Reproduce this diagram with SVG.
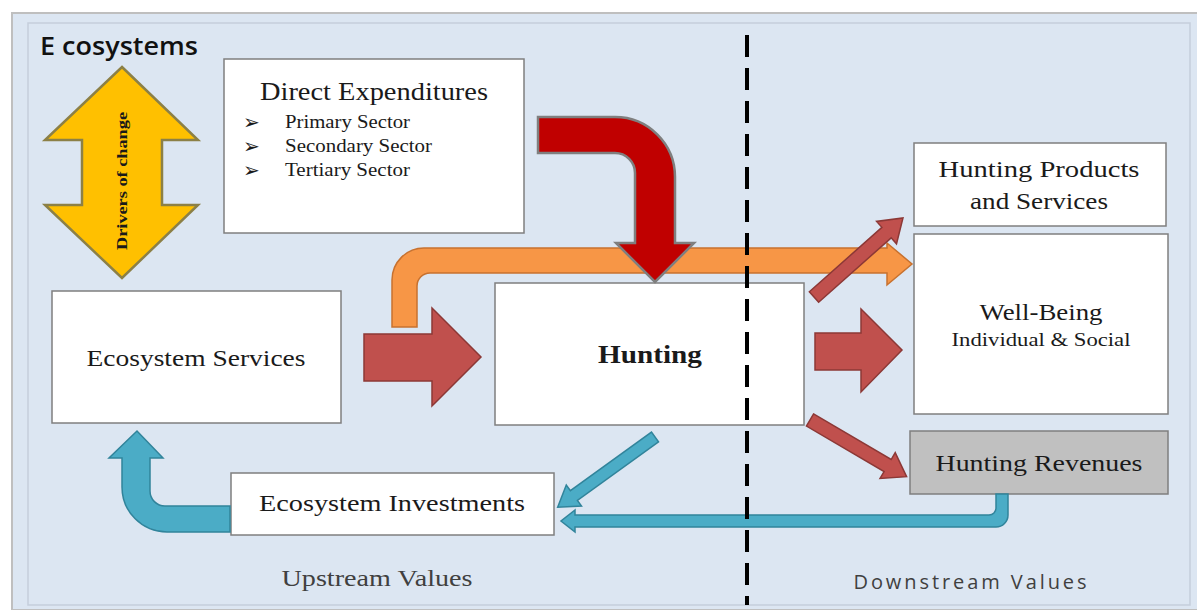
<svg xmlns="http://www.w3.org/2000/svg" width="1197" height="610" viewBox="0 0 1197 610">
<style>
.box{fill:#ffffff;stroke:#7f7f7f;stroke-width:1.5}
.gbox{fill:#c0c0c0;stroke:#7f7f7f;stroke-width:1.5}
.serif{font-family:"Liberation Serif","Times New Roman",serif;fill:#1a1a1a}
.red{fill:#c0504d;stroke:#8c3836;stroke-width:1.5}
.blue{fill:#4bacc6;stroke:#31849b;stroke-width:1.5}
</style>
<rect x="0" y="0" width="1197" height="610" fill="#ffffff"/>
<rect x="12" y="13" width="1190" height="597" fill="#dce6f2" stroke="#bfbfbf" stroke-width="2"/>
<rect x="28" y="23" width="1162" height="582" fill="#dce6f2" stroke="#c5cedb" stroke-width="1.5"/>
<text x="40" y="55" font-family="Open Sans, Liberation Sans, sans-serif" font-size="25" font-weight="600" fill="#111" textLength="158" lengthAdjust="spacingAndGlyphs">E cosystems</text>

<g id="drivers">
<path d="M122 67 L198 140 H162 V205 H198 L122 278 L45 205 H82 V140 H45 Z" fill="#ffc000" stroke="#8c8046" stroke-width="2.5"/>
<text class="serif" transform="translate(127 181) rotate(-90)" text-anchor="middle" font-size="15" font-weight="bold" textLength="138" lengthAdjust="spacingAndGlyphs">Drivers of change</text>
</g>

<g id="direct-expenditures">
<rect class="box" x="224" y="59" width="300" height="174"/>
<text class="serif" x="374" y="100" text-anchor="middle" font-size="25" textLength="228" lengthAdjust="spacingAndGlyphs">Direct Expenditures</text>
<g font-size="18">
<text class="serif" x="243" y="129" font-size="20">➢</text>
<text class="serif" x="243" y="153" font-size="20">➢</text>
<text class="serif" x="243" y="177" font-size="20">➢</text>
<text class="serif" x="285" y="128" textLength="125" lengthAdjust="spacingAndGlyphs">Primary Sector</text>
<text class="serif" x="285" y="152" textLength="147" lengthAdjust="spacingAndGlyphs">Secondary Sector</text>
<text class="serif" x="285" y="176" textLength="125" lengthAdjust="spacingAndGlyphs">Tertiary Sector</text>
</g>
</g>

<g id="ecosystem-services">
<rect class="box" x="52" y="291" width="289" height="132"/>
<text class="serif" x="196" y="366" text-anchor="middle" font-size="24" textLength="219" lengthAdjust="spacingAndGlyphs">Ecosystem Services</text>
</g>

<g id="hunting">
<rect class="box" x="495" y="283" width="309" height="142"/>
<text class="serif" x="650" y="363" text-anchor="middle" font-size="26" font-weight="bold" textLength="104" lengthAdjust="spacingAndGlyphs">Hunting</text>
</g>

<g id="hunting-products">
<rect class="box" x="914" y="143" width="252" height="83"/>
<text class="serif" x="1039" y="177" text-anchor="middle" font-size="24" textLength="201" lengthAdjust="spacingAndGlyphs">Hunting Products</text>
<text class="serif" x="1039" y="209" text-anchor="middle" font-size="24" textLength="138" lengthAdjust="spacingAndGlyphs">and Services</text>
</g>

<g id="well-being">
<rect class="box" x="914" y="234" width="254" height="180"/>
<text class="serif" x="1041" y="320" text-anchor="middle" font-size="24" textLength="123" lengthAdjust="spacingAndGlyphs">Well-Being</text>
<text class="serif" x="1041" y="346" text-anchor="middle" font-size="19" textLength="179" lengthAdjust="spacingAndGlyphs">Individual &amp; Social</text>
</g>

<g id="hunting-revenues">
<rect class="gbox" x="910" y="431" width="258" height="63"/>
<text class="serif" x="1039" y="471" text-anchor="middle" font-size="24" textLength="207" lengthAdjust="spacingAndGlyphs">Hunting Revenues</text>
</g>

<g id="ecosystem-investments">
<rect class="box" x="231" y="473" width="323" height="62"/>
<text class="serif" x="392" y="511" text-anchor="middle" font-size="24" textLength="266" lengthAdjust="spacingAndGlyphs">Ecosystem Investments</text>
</g>

<g id="connectors">
<path d="M392 327 V280 A32 32 0 0 1 424 248 H887 V243 L912 264 L887 285 V273 H430 A13 13 0 0 0 417 286 V327 Z" fill="#f79646" stroke="#c7712f" stroke-width="1.5"/>
<path d="M538 117 H615 A60 60 0 0 1 675 177 V243 H694 L655 282 L616 243 H635 V173 A20 20 0 0 0 615 153 H538 Z" fill="#c00000" stroke="#7f7f7f" stroke-width="2.5"/>
<path class="red" d="M364 334 H432 V308 L481 357 L432 406 V381 H364 Z"/>
<path class="red" d="M815 333 H861 V309 L902 350 L861 392 V370 H815 Z"/>
<path class="red" transform="translate(814 297) rotate(-41.6)" d="M0 -7 H97 V-15 L119 0 L97 15 V7 H0 Z"/>
<path class="red" transform="translate(810 420) rotate(30.4)" d="M0 -7 H90 V-15 L112 0 L90 15 V7 H0 Z"/>
<path class="blue" transform="translate(655 437) rotate(144.2)" d="M0 -6 H100 V-13 L120 0 L100 13 V6 H0 Z"/>
<path class="blue" d="M996 494 V508 A7 7 0 0 1 989 515 H575 V510 L561 521 L575 532 V527 H996 A12 12 0 0 0 1008 515 V494 Z"/>
<path class="blue" d="M230 506 H165 A15 15 0 0 1 150 491 V458 H163 L137 431 L109 458 H122 V487 A45 45 0 0 0 167 532 H230 Z"/>
</g>

<line x1="747" y1="35" x2="747" y2="605" stroke="#000" stroke-width="4" stroke-dasharray="22 11"/>

<text class="serif" x="377" y="586" text-anchor="middle" font-size="23" style="fill:#404040" textLength="191" lengthAdjust="spacingAndGlyphs">Upstream Values</text>
<text x="970" y="589" text-anchor="middle" font-family="Open Sans, Liberation Sans, sans-serif" font-size="20" fill="#404040" textLength="233">Downstream Values</text>
</svg>
